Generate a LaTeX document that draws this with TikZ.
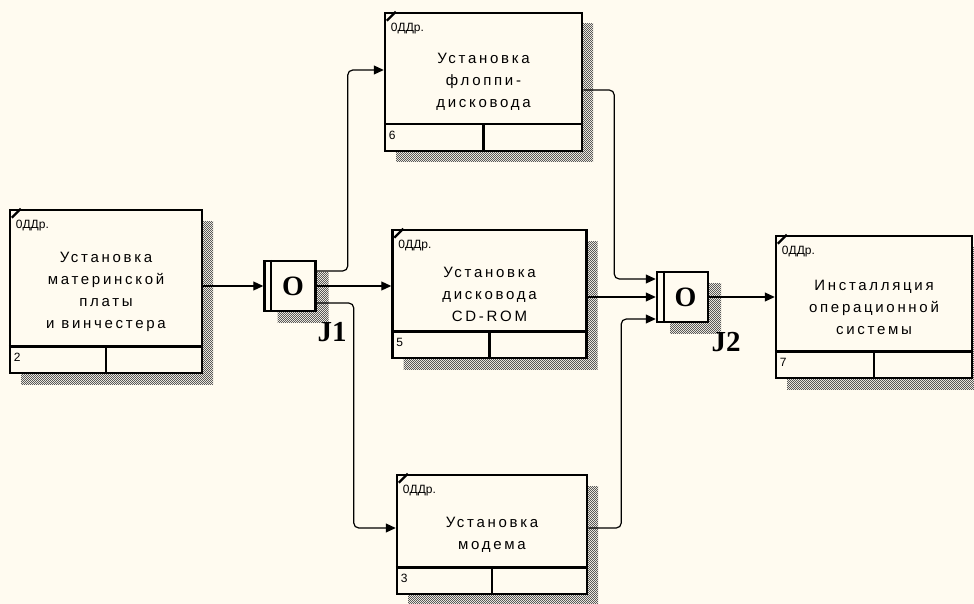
\documentclass[tikz,border=0pt]{standalone}
\usepackage{fontspec}
\usetikzlibrary{arrows.meta,shadows,patterns,positioning}
\newfontfamily\actfont[LetterSpace=18]{Liberation Sans}
\newfontfamily\tagfont{Liberation Sans}
\newfontfamily\jfont{Liberation Serif}
\definecolor{paper}{RGB}{255,251,240}
\pgfdeclarepatternformonly{idefdots}{\pgfqpoint{0pt}{0pt}}{\pgfqpoint{2.4pt}{2.4pt}}{\pgfqpoint{2.4pt}{2.4pt}}{%
    \pgfpathrectangle{\pgfqpoint{0pt}{0pt}}{\pgfqpoint{1.2pt}{1.2pt}}%
    \pgfpathrectangle{\pgfqpoint{1.2pt}{1.2pt}}{\pgfqpoint{1.2pt}{1.2pt}}%
    \pgfusepath{fill}}

\tikzstyle{act}=[draw, line width=2.5pt, fill=paper, inner sep=0pt, align=center, font=\actfont\fontsize{15}{22}\selectfont, general shadow={shadow xshift=11pt, shadow yshift=-11pt, pattern=idefdots, pattern color=black!65}]
\tikzstyle{junc}=[draw, line width=2.5pt, fill=paper, minimum width=51pt, minimum height=50pt, inner sep=0pt, font=\jfont\bfseries\fontsize{28}{28}\selectfont, general shadow={shadow xshift=13pt, shadow yshift=-11pt, pattern=idefdots, pattern color=black!65}]
\tikzstyle{jlabel}=[font=\jfont\bfseries\fontsize{29}{29}\selectfont, inner sep=0pt]
\tikzstyle{flow}=[-{Triangle[length=10pt,width=9pt]}, line width=1.2pt, rounded corners=5pt]
\tikzstyle{tag}=[font=\tagfont\fontsize{12}{12}\selectfont, inner sep=0pt]
\tikzstyle{rule}=[line width=2.5pt]

\begin{document}
\begin{tikzpicture}[x=1pt, y=-1pt]
    \fill[paper] (0,0) rectangle (974,604);
    \useasboundingbox (0,0) rectangle (974,604);
    \node[act, minimum width=192pt, minimum height=163pt] (b2) at (106,291.5) {Установка\\материнской\\платы\\и винчестера};
    \node[act, minimum width=197pt, minimum height=138pt] (b6) at (483.5,82) {Установка\\флоппи-\\дисковода};
    \node[act, minimum width=194pt, minimum height=128pt] (b5) at (489.5,294) {Установка\\дисковода\\CD-ROM};
    \node[act, minimum width=190pt, minimum height=119pt] (b3) at (492,534.5) {Установка\\модема};
    \node[act, minimum width=196pt, minimum height=142pt] (b7) at (874,307) {Инсталляция\\операционной\\системы};
    \foreach \b/\k in {b2/2,b6/6,b5/5,b3/3,b7/7} {
        \draw[rule] ([yshift=28pt]\b.south west) -- ([yshift=28pt]\b.south east);
        \draw[rule] (\b.south) -- ([yshift=28pt]\b.south);
        \node[tag, anchor=base west] (\b num) at ([xshift=5pt,yshift=13pt]\b.south west) {\k};
        \node[tag, anchor=base west] (\b tag) at ([xshift=7pt,yshift=-20pt]\b.north west) {0ДДр.};
        \draw[line width=2.2pt] ([xshift=3pt,yshift=-9pt]\b.north west) -- ([xshift=12pt]\b.north west);
    }
    \node[junc] (j1) at (290,286) {\kern6pt O};
    \node[junc] (j2) at (682.5,297) {\kern6pt O};
    \draw[line width=2pt] ([xshift=8pt]j1.north west) -- ([xshift=8pt]j1.south west);
    \draw[line width=2pt] ([xshift=8pt]j2.north west) -- ([xshift=8pt]j2.south west);
    \node[jlabel] (j1 label) at (332,332) {J1};
    \node[jlabel] (j2 label) at (726,342) {J2};
    \draw[flow] (j1.west -| b2.east) -- (j1.west);
    \draw[flow] ([yshift=15pt]j1.east) -- ++(31,0) |- ([yshift=12pt]b6.west);
    \draw[flow] (j1.east) -- (j1.east -| b5.west);
    \draw[flow] ([yshift=-17pt]j1.east) -- ++(37,0) |- ([yshift=6.5pt]b3.west);
    \draw[flow] ([yshift=-8pt]b6.east) -- ++(31,0) |- ([yshift=18pt]j2.west);
    \draw[flow] (j2.west -| b5.east) -- (j2.west);
    \draw[flow] ([yshift=6.5pt]b3.east) -- ++(33,0) |- ([yshift=-22pt]j2.west);
    \draw[flow] (j2.east) -- (j2.east -| b7.west);
\end{tikzpicture}
\end{document}
